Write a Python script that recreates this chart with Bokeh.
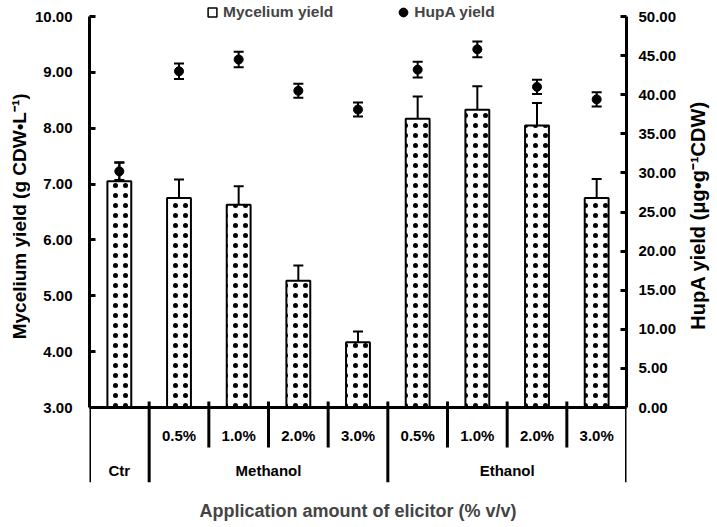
from bokeh.plotting import figure
from bokeh.layouts import row
from bokeh.models import (Range1d, LinearAxis, FixedTicker, PrintfTickFormatter, ColumnDataSource,
                          Whisker, TeeHead, Legend, LegendItem, Label)
from bokeh.core.properties import value
from bokeh.embed import file_html
from bokeh.resources import INLINE
import math

# ---- data ----
groups = ["Ctr", "Methanol", "Methanol", "Methanol", "Methanol", "Ethanol", "Ethanol", "Ethanol", "Ethanol"]
levels = ["", "0.5%", "1.0%", "2.0%", "3.0%", "0.5%", "1.0%", "2.0%", "3.0%"]
mycelium = [7.05, 6.75, 6.63, 5.27, 4.17, 8.17, 8.33, 8.05, 6.75]
mycelium_err = [0.34, 0.33, 0.33, 0.27, 0.19, 0.40, 0.42, 0.40, 0.34]
hupa = [30.2, 43.0, 44.5, 40.5, 38.1, 43.2, 45.8, 41.0, 39.4]
hupa_err = [1.1, 1.0, 1.0, 0.9, 0.9, 1.0, 1.0, 0.9, 0.9]
left_ticks = [3, 4, 5, 6, 7, 8, 9, 10]
right_ticks = [0, 5, 10, 15, 20, 25, 30, 35, 40, 45, 50]
left_title = "Mycelium yield (g CDW\u2022L\u207b\u00b9)"
right_title = "HupA yield (\u03bcg\u2022g\u207b\u00b9CDW)"
x_title = "Application amount of elicitor (% v/v)"

FONT = value("Liberation Sans")
n = len(groups)
xs = [i + 0.5 for i in range(n)]
H = 527

# ranges: frame spans the whole height (legend on top, category table below)
PX_L = 391 / 7.0      # px per left unit
PX_R = 391 / 50.0     # px per right unit
y_lo = 3 - 75 / PX_L
y_hi = 10 + 16 / PX_L
r_lo = -75 / PX_R
r_hi = 50 + 16 / PX_R

LW, RW = 30, 31
p = figure(width=656, height=H, output_backend="svg", toolbar_location=None,
           x_range=Range1d(0, n), y_range=Range1d(y_lo, y_hi),
           min_border_left=59, min_border_right=60, min_border_top=0, min_border_bottom=45,
           x_axis_location="below")
p.extra_y_ranges = {"right": Range1d(r_lo, r_hi)}
p.outline_line_color = None
p.xgrid.visible = False
p.ygrid.visible = False
p.background_fill_color = "white"

# x axis used only for its title
xa = p.xaxis[0]
xa.ticker = FixedTicker(ticks=[])
xa.axis_line_color = None
xa.major_tick_line_color = None
xa.minor_tick_line_color = None
xa.axis_label = x_title
xa.axis_label_text_font = "Liberation Sans"
xa.axis_label_text_font_style = "bold"
xa.axis_label_text_font_size = "18px"
xa.axis_label_standoff = 18

def style_axis(ax):
    ax.axis_line_width = 3
    ax.axis_line_color = "black"
    ax.major_tick_in = 6
    ax.major_tick_out = 0
    ax.major_tick_line_width = 3
    ax.minor_tick_line_color = None
    ax.major_label_text_font = "Liberation Sans"
    ax.major_label_text_font_style = "bold"
    ax.major_label_text_font_size = "15px"
    ax.major_label_text_color = "black"
    ax.formatter = PrintfTickFormatter(format="%.2f")

ya = p.yaxis[0]
ya.ticker = FixedTicker(ticks=left_ticks)
ya.bounds = (left_ticks[0], left_ticks[-1])
style_axis(ya)
ya.major_label_standoff = 17

ra = LinearAxis(y_range_name="right", ticker=FixedTicker(ticks=right_ticks),
                bounds=(right_ticks[0], right_ticks[-1]))
style_axis(ra)
ra.major_label_standoff = 12
p.add_layout(ra, "right")

# bars
bar_src = ColumnDataSource(dict(x=xs, top=mycelium,
                                upper=[v + e for v, e in zip(mycelium, mycelium_err)],
                                lower=[v - e for v, e in zip(mycelium, mycelium_err)]))
p.vbar(x="x", top="top", bottom=3, width=0.4, source=bar_src, fill_color="white",
       line_color="black", line_width=2, hatch_pattern="dot", hatch_scale=10,
       hatch_weight=0.2, hatch_color="black")
p.add_layout(Whisker(source=bar_src, base="x", upper="upper", lower="lower",
                     line_width=2, line_color="black",
                     upper_head=TeeHead(size=10, line_width=2, line_color="black"),
                     lower_head=TeeHead(size=10, line_width=2, line_color="black")))

# HupA points
h_src = ColumnDataSource(dict(x=xs, y=hupa,
                              upper=[v + e for v, e in zip(hupa, hupa_err)],
                              lower=[v - e for v, e in zip(hupa, hupa_err)]))
p.add_layout(Whisker(source=h_src, base="x", upper="upper", lower="lower", y_range_name="right",
                     line_width=2, line_color="black",
                     upper_head=TeeHead(size=10, line_width=2, line_color="black"),
                     lower_head=TeeHead(size=10, line_width=2, line_color="black")))
p.scatter(x="x", y="y", source=h_src, y_range_name="right", size=9, marker="circle",
          fill_color="black", line_color="black")

# category table
p.segment(x0=[0], y0=[3], x1=[n], y1=[3], line_width=3, line_color="black")
p.segment(x0=[0, n], y0=[y_lo, y_lo], x1=[0, n], y1=[3, 3], line_width=3, line_color="black")
bounds = [i for i in range(1, n) if groups[i] == groups[i - 1]]
gbounds = [i for i in range(1, n) if groups[i] != groups[i - 1]]
y_top_sep = 3 + 6 / PX_L
y_short = 3 - 40 / PX_L
p.segment(x0=bounds, y0=[y_top_sep] * len(bounds), x1=bounds, y1=[y_short] * len(bounds),
          line_width=3, line_color="black")
p.segment(x0=gbounds, y0=[y_top_sep] * len(gbounds), x1=gbounds, y1=[y_lo] * len(gbounds),
          line_width=3, line_color="black")

lvl_x = [xs[i] for i in range(n) if levels[i]]
lvl_t = [levels[i] for i in range(n) if levels[i]]
p.text(x=lvl_x, y=[3 - 28 / PX_L] * len(lvl_x), text=lvl_t, text_font=FONT,
       text_font_style="bold", text_font_size="15px", text_align="center",
       text_baseline="middle", text_color="black")

grp_names, grp_x = [], []
for g in dict.fromkeys(groups):
    idx = [i for i in range(n) if groups[i] == g]
    grp_names.append(g)
    grp_x.append((idx[0] + idx[-1] + 1) / 2)
p.text(x=grp_x, y=[3 - 63 / PX_L] * len(grp_x), text=grp_names, text_font=FONT,
       text_font_style="bold", text_font_size="15px", text_align="center",
       text_baseline="middle", text_color="black")

# legend proxies (NaN point: only the legend glyph is drawn)
nan = float("nan")
sq = p.scatter(x=[nan], y=[nan], marker="square", size=9, fill_color="white",
               line_color="black", line_width=1.5)
ci = p.scatter(x=[nan], y=[nan], marker="circle", size=7, fill_color="black", line_color="black")
legend = Legend(items=[LegendItem(label="Mycelium yield", renderers=[sq]),
                       LegendItem(label="HupA yield", renderers=[ci])],
                orientation="horizontal", location=(112, 459), padding=0, margin=0,
                spacing=59, glyph_width=22, glyph_height=22, label_height=16,
                label_standoff=-5, border_line_color=None, background_fill_alpha=0,
                label_text_font="Liberation Sans", label_text_font_style="bold",
                label_text_font_size="15.5px")
p.add_layout(legend, "center")

# side strips that carry the rotated axis titles (reading bottom to top)
def title_strip(w, x, y, text, size):
    f = figure(width=w, height=H, output_backend="svg", toolbar_location=None,
               x_range=Range1d(0, w), y_range=Range1d(H, 0), min_border=0,
               x_axis_location=None, y_axis_location=None)
    f.outline_line_color = None
    f.grid.visible = False
    f.add_layout(Label(x=x, y=y, text=text, angle=math.pi / 2, text_align="center",
                       text_baseline="middle", text_font="Liberation Sans",
                       text_font_style="bold", text_font_size=size, text_color="black"))
    return f

left_strip = title_strip(LW, 19, 236, left_title, "19px")
right_strip = title_strip(RW, 11, 235, right_title, "20px")

layout = row(left_strip, p, right_strip, spacing=0)
open("out.html", "w").write(file_html(layout, INLINE))
